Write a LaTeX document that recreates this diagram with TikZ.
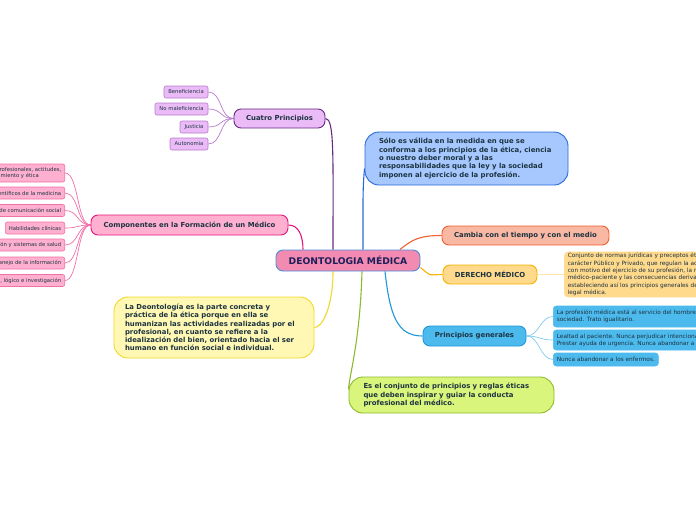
\documentclass[tikz,border=0pt]{standalone}
\usepackage{fontspec}
\setmainfont{DejaVu Sans}
\usetikzlibrary{calc,backgrounds}
\definecolor{ink}{HTML}{1C3340}
\definecolor{navy}{HTML}{1B1F5A}
\definecolor{cFill}{HTML}{F28AB2}
\definecolor{cLine}{HTML}{4A8ED8}
\definecolor{pkFill}{HTML}{FFB0D0}
\definecolor{pkLine}{HTML}{E8157A}
\definecolor{pkLeafLine}{HTML}{F070A8}
\definecolor{puFill}{HTML}{EBBBF7}
\definecolor{puLine}{HTML}{6A2A80}
\definecolor{puLeafLine}{HTML}{B87CCC}
\definecolor{bbFill}{HTML}{A6C8FF}
\definecolor{bbLine}{HTML}{2A6AD8}
\definecolor{yFill}{HTML}{FFF8B4}
\definecolor{yLine}{HTML}{F2D82A}
\definecolor{gFill}{HTML}{DAF57C}
\definecolor{gLine}{HTML}{8DBA2E}
\definecolor{oFill}{HTML}{F9B8A3}
\definecolor{oLine}{HTML}{F06030}
\definecolor{dFill}{HTML}{FFD98C}
\definecolor{dLine}{HTML}{F5B400}
\definecolor{dLeafLine}{HTML}{FFE6A6}
\definecolor{sFill}{HTML}{4DBAEE}
\definecolor{sLine}{HTML}{1E98DA}
\definecolor{sLeafLine}{HTML}{80CDF2}
\begin{document}
\begin{tikzpicture}[x=1pt,y=-1pt,
  topic/.style={draw, line width=0.9pt, rounded corners=7pt, inner sep=0pt,
    font=\fontsize{6.9}{8.5}\selectfont\bfseries, text=ink, minimum height=19pt},
  leaf/.style={draw, line width=0.6pt, rounded corners=2pt, inner xsep=3.5pt, inner ysep=0pt,
    font=\fontsize{5.3}{6.6}\selectfont, text=ink, minimum height=12pt},
  bubble/.style={draw, line width=0.9pt, rounded corners=14pt, inner xsep=0pt, inner ysep=0pt,
    font=\fontsize{6.9}{8.3}\selectfont\bfseries, align=left, text=ink},
  conn/.style={line width=1.1pt},
  thin/.style={line width=0.7pt}]
\useasboundingbox (0,0) rectangle (696,520);

% central
\node[topic, fill=cFill, draw=cLine, minimum width=144pt, minimum height=21pt,
  font=\fontsize{9.2}{11}\selectfont\bfseries, text=navy] (dm) at (348,260.5) {DEONTOLOGIA MÉDICA};

% Cuatro principios
\node[topic, fill=puFill, draw=puLine, minimum width=91pt] (cp) at (279.5,118.5) {Cuatro Principios};
\node[leaf, fill=puFill, draw=puLeafLine, minimum width=44pt] (p1) at (186,92) {Beneficiencia};
\node[leaf, fill=puFill, draw=puLeafLine, minimum width=53pt] (p2) at (181.5,109) {No maleficiencia};
\node[leaf, fill=puFill, draw=puLeafLine, minimum width=28pt] (p3) at (194,127) {Justicia};
\node[leaf, fill=puFill, draw=puLeafLine, minimum width=38pt] (p4) at (189,144) {Autonomia};

% Componentes
\node[topic, fill=pkFill, draw=pkLine, minimum width=197pt, minimum height=20pt] (cm) at (189.5,225) {Componentes en la Formación de un Médico};
\node[leaf, fill=pkFill, draw=pkLeafLine, anchor=east, minimum height=18pt, align=left] (k1) at (65,173) {Valores profesionales, actitudes,\\comportamiento y ética};
\node[leaf, fill=pkFill, draw=pkLeafLine, anchor=east] (k2) at (65,193) {Fundamentos científicos de la medicina};
\node[leaf, fill=pkFill, draw=pkLeafLine, anchor=east] (k3) at (65,210.5) {Habilidades de comunicación social};
\node[leaf, fill=pkFill, draw=pkLeafLine, anchor=east] (k4) at (65,228) {Habilidades clínicas};
\node[leaf, fill=pkFill, draw=pkLeafLine, anchor=east] (k5) at (65,245) {Salud de la población y sistemas de salud};
\node[leaf, fill=pkFill, draw=pkLeafLine, anchor=east] (k6) at (65,263) {Manejo de la información};
\node[leaf, fill=pkFill, draw=pkLeafLine, anchor=east] (k7) at (65,280.5) {Pensamiento crítico, lógico e investigación};

% bubbles
\node[bubble, fill=bbFill, draw=bbLine, minimum width=203pt, minimum height=53pt, text width=175pt] (bb) at (466.5,158.5)
 {Sólo es válida en la medida en que se\\conforma a los principios de la ética, ciencia\\o nuestro deber moral y a las\\responsabilidades que la ley y la sociedad\\imponen al ejercicio de la profesión.};
\node[bubble, fill=yFill, draw=yLine, minimum width=200pt, minimum height=61pt, text width=178pt] (yb) at (214,327.5)
 {La Deontología es la parte concreta y\\práctica de la ética porque en ella se\\humanizan las actividades realizadas por el\\profesional, en cuanto se refiere a la\\idealización del bien, orientado hacia el ser\\humano en función social e individual.};
\node[bubble, fill=gFill, draw=gLine, minimum width=205pt, minimum height=36pt, text width=176pt] (gb) at (451.5,395)
 {Es el conjunto de principios y reglas éticas\\que deben inspirar y guiar la conducta\\profesional del médico.};

% right topics
\node[topic, fill=oFill, draw=oLine, minimum width=167pt] (cw) at (525.5,235.5) {Cambia con el tiempo y con el medio};
\node[topic, fill=dFill, draw=dLine, minimum width=94pt] (dr) at (490,274.5) {DERECHO MÉDICO};
\node[leaf, fill=dFill, draw=dFill, rounded corners=4pt, anchor=west, align=left, minimum height=45pt,
  font=\fontsize{5.8}{7.3}\selectfont] (ot) at (564,274.5)
 {Conjunto de normas jurídicas y preceptos éticos de\\carácter Público y Privado, que regulan la actividad\\con motivo del ejercicio de su profesión, la relación\\médico–paciente y las consecuencias derivadas,\\estableciendo así los principios generales de la\\legal médica.};
\node[topic, fill=sFill, draw=sLine, minimum width=103pt, minimum height=20pt] (pg) at (474.5,336) {Principios generales};
\node[leaf, fill=sFill, draw=sFill, rounded corners=3pt, anchor=west, align=left, minimum height=21pt,
  font=\fontsize{5.8}{7.2}\selectfont] (s1) at (553,316.5)
 {La profesión médica está al servicio del hombre y de la\\sociedad. Trato igualitario.};
\node[leaf, fill=sFill, draw=sFill, rounded corners=3pt, anchor=west, align=left, minimum height=20pt,
  font=\fontsize{5.8}{7.2}\selectfont] (s2) at (553,340)
 {Lealtad al paciente. Nunca perjudicar intencionalmente.\\Prestar ayuda de urgencia. Nunca abandonar a los enfermos.};
\node[leaf, fill=sFill, draw=sFill, rounded corners=3pt, anchor=west, minimum height=13pt,
  font=\fontsize{5.8}{7.2}\selectfont] (s3) at (553,359.5) {Nunca abandonar a los enfermos.};

% connectors
\begin{scope}[on background layer]
\fill[white] (0,0) rectangle (696,520);
\draw[conn, puLine] ([xshift=-15pt]dm.north) .. controls +(0,-95) and +(9,0) .. (cp.east);
\foreach \n in {p1,p2,p3,p4}
  \draw[thin, puLeafLine] (cp.west) .. controls +(-14,0) and +(14,0) .. (\n.east);
\draw[conn, pkLine] ([xshift=-45pt]dm.north) .. controls +(0,-14) and +(10,0) .. (cm.east);
\foreach \n in {k1,k2,k3,k4,k5,k6,k7}
  \draw[thin, pkLeafLine] (cm.west) .. controls +(-14,0) and +(14,0) .. (\n.east);
\draw[conn, bbLine] ([xshift=15pt]dm.north) .. controls +(0,-45) and +(-2,20) .. ([yshift=-10pt]bb.west);
\draw[conn, yLine] ([xshift=-15pt]dm.south) .. controls +(0,35) and +(8,0) .. (yb.east);
\draw[conn, gLine] ([xshift=14pt]dm.south) .. controls +(-2,70) and +(1,-15) .. ([yshift=6pt]gb.west);
\draw[conn, oLine] ([xshift=52pt]dm.north) .. controls +(12,-10) and +(-22,0) .. (cw.west);
\draw[conn, dLine] ([yshift=-7pt]dm.east) .. controls +(12,10) and +(-14,0) .. (dr.west);
\draw[thin, dLeafLine] (dr.east) -- (ot.west);
\draw[conn, sLine] ([xshift=37pt]dm.south) .. controls +(5,45) and +(-25,0) .. (pg.west);
\foreach \n in {s1,s2,s3}
  \draw[thin, sLeafLine] (pg.east) .. controls +(13,0) and +(-13,0) .. (\n.west);
\end{scope}
\end{tikzpicture}
\end{document}
